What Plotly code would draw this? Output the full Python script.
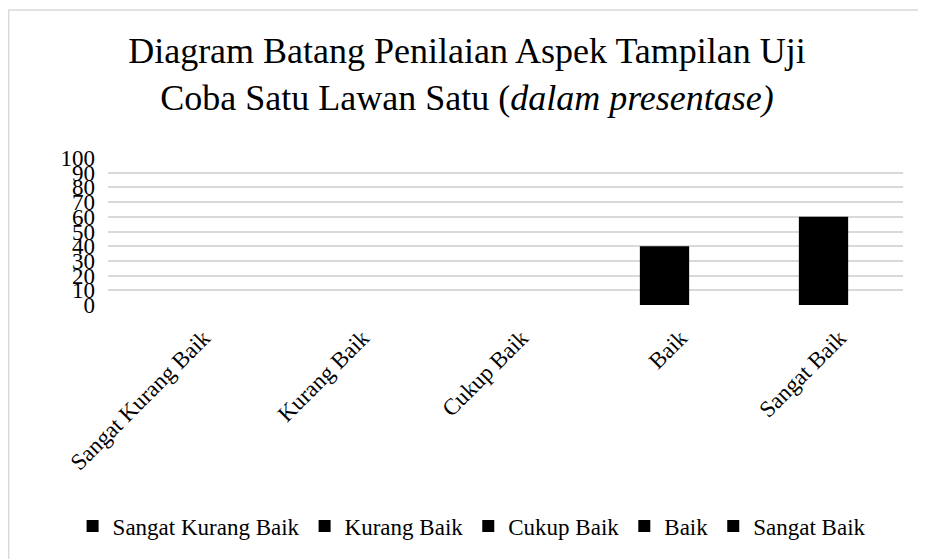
import plotly.graph_objects as go

categories = ["Sangat Kurang Baik", "Kurang Baik", "Cukup Baik", "Baik", "Sangat Baik"]
values = [0, 0, 0, 40, 60]
y_ticks = list(range(0, 101, 10))

SERIF = "Liberation Serif, Times New Roman, serif"

fig = go.Figure()
for cat, val in zip(categories, values):
    fig.add_trace(
        go.Bar(
            x=[cat],
            y=[val],
            name=cat,
            width=0.31,
            marker=dict(color="#000000", line=dict(width=0)),
        )
    )

# light frame round the whole chart
fig.add_shape(
    type="rect", xref="paper", yref="paper",
    x0=-0.125, x1=1.05, y0=-1.8, y1=2.007,
    line=dict(color="#d9d9d9", width=1.5), fillcolor="rgba(0,0,0,0)", layer="below",
)

fig.update_layout(
    width=918,
    height=551,
    barmode="overlay",
    title=dict(
        text="Diagram Batang Penilaian Aspek Tampilan Uji<br>Coba Satu Lawan Satu (<i>dalam presentase)</i>",
        font=dict(family=SERIF, size=36, color="#000000"),
        x=0.5, xref="container", xanchor="center",
        y=1 - 55 / 551, yref="container", yanchor="middle",
        automargin=False,
    ),
    font=dict(family=SERIF, color="#000000"),
    margin=dict(l=100, r=23, t=150, b=254, autoexpand=False),
    plot_bgcolor="#ffffff",
    paper_bgcolor="#ffffff",
    showlegend=True,
    legend=dict(
        orientation="h",
        x=0.505, xref="container", xanchor="center",
        y=0.06, yref="container", yanchor="middle",
        font=dict(family=SERIF, size=23, color="#000000"),
        traceorder="normal",
        itemwidth=30,
    ),
)
fig.update_yaxes(
    range=[0, 100],
    tickmode="array",
    tickvals=y_ticks,
    ticktext=[str(v) for v in y_ticks],
    tickfont=dict(family=SERIF, size=23, color="#000000"),
    ticklabelstandoff=12,
    showgrid=True,
    gridcolor="#d9d9d9",
    gridwidth=1.5,
    zeroline=False,
    showline=False,
    ticks="",
    automargin=False,
)
fig.update_xaxes(
    categoryorder="array",
    categoryarray=categories,
    tickangle=-45,
    tickfont=dict(family=SERIF, size=23, color="#000000"),
    ticklabelshift=16,
    ticklabelstandoff=14,
    showline=False,
    showgrid=False,
    ticks="",
    automargin=False,
)

fig.write_html("out.html")
